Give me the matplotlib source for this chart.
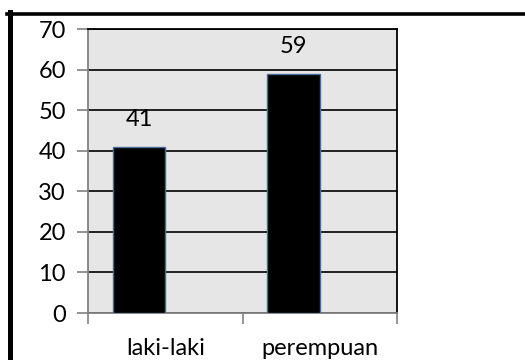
import matplotlib
matplotlib.use("Agg")
import matplotlib.pyplot as plt
from matplotlib.lines import Line2D
import numpy as np

categories = ["laki-laki", "perempuan"]
values = [41, 59]
yticks = [0, 10, 20, 30, 40, 50, 60, 70]

plt.rcParams['font.family'] = ['Lato', 'DejaVu Sans']

W, H = 525, 360
fig = plt.figure(figsize=(W/100, H/100), dpi=100)
ax = fig.add_axes([88/W, 1-313/H, (397-88)/W, (313-29)/H])
ax.set_facecolor('#e6e6e6')

FS = 17
x = np.arange(len(categories))
offset = -0.17
bw = 0.34
bars = ax.bar(x + offset, values, width=bw, color='black', edgecolor='#4a6a9a', linewidth=1.0, zorder=3)
for xi, v in zip(x, values):
    ax.text(xi + offset, v + 6.8, str(v), ha='center', va='center', fontsize=FS, color='black', zorder=4)

ax.set_xlim(-0.5, 1.5)
ax.set_ylim(0, 70)
ax.set_yticks(yticks)
ax.set_yticklabels([str(t) for t in yticks], fontsize=FS)
ax.set_xticks([-0.5, 0.5, 1.5])
ax.set_xticklabels([])
ax.xaxis.set_minor_locator(matplotlib.ticker.FixedLocator(x))
ax.xaxis.set_minor_formatter(matplotlib.ticker.FixedFormatter(categories))
ax.tick_params(axis='x', which='minor', length=0, labelsize=FS, pad=18)
ax.tick_params(axis='x', which='major', length=8, width=1.2, color='#808080', direction='out')
ax.tick_params(axis='y', length=8, width=1.2, color='#808080', direction='out', pad=8)

ax.yaxis.grid(True, color='black', linewidth=1.2, zorder=1)
ax.set_axisbelow(True)
for s in ['top', 'right']:
    ax.spines[s].set_color('black')
    ax.spines[s].set_linewidth(1.3)
for s in ['left', 'bottom']:
    ax.spines[s].set_color('#808080')
    ax.spines[s].set_linewidth(1.3)

# outer frame lines
fig.add_artist(Line2D([7/W, 1], [1-13.5/H, 1-13.5/H], transform=fig.transFigure, color='black', linewidth=2.6))
fig.add_artist(Line2D([9.5/W, 9.5/W], [0, 1-12/H], transform=fig.transFigure, color='black', linewidth=3.6))

fig.savefig('out.png', dpi=100)
